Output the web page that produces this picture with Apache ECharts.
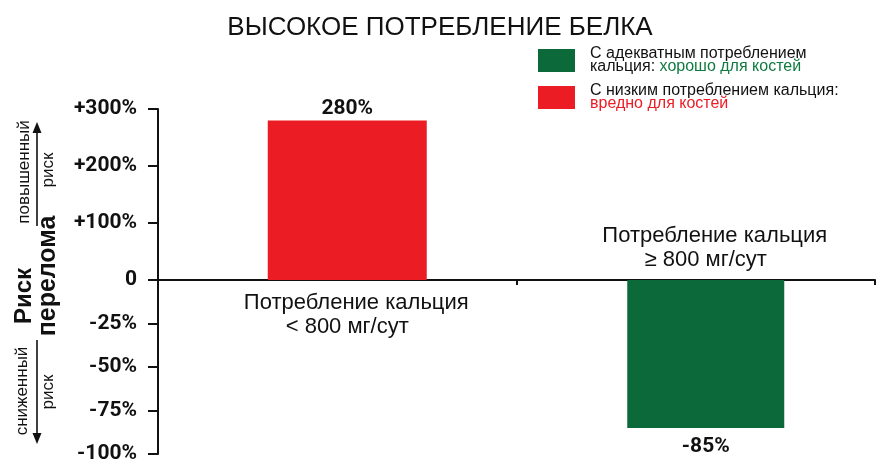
<!DOCTYPE html>
<html>
<head>
<meta charset="utf-8">
<script src="https://cdn.jsdelivr.net/npm/echarts@6/dist/echarts.min.js"></script>
<style>
  html, body { margin: 0; padding: 0; background: #ffffff; }
  #chart { width: 880px; height: 464px; }
</style>
</head>
<body>
<div id="chart"></div>
<script>
// Calcium intake groups (x categories)
const categories = ['Потребление кальция\n< 800 мг/сут', 'Потребление кальция\n≥ 800 мг/сут'];

// Change in fracture risk, % (high protein intake)
const lowCalcium = [280, '-'];
const adequateCalcium = ['-', -85];

// Series names shown in the legend
const seriesNames = ['С адекватным потреблением кальция', 'С низким потреблением кальция'];

// Tick labels of the two halves of the risk axis
const upperTickLabels = ['0', '+100%', '+200%', '+300%'];
const lowerTickLabels = ['-100%', '-75%', '-50%', '-25%', ''];

const RED = '#ec1c24';
const GREEN = '#0b693a';
const BOLDNUM = "Roboto, 'Liberation Sans', sans-serif";
const SANS = "'Liberation Sans', Arial, sans-serif";

const tickFont = { fontFamily: BOLDNUM, fontWeight: 'bold', fontSize: 21, color: '#111' };

// Category label: first line nudged right a little
function categoryLabel(value) {
  const lines = value.split('\n');
  return '{a|' + lines[0] + '}\n{b|' + lines[1] + '}';
}
const catRich = {
  a: { fontFamily: SANS, fontSize: 22, color: '#111', lineHeight: 24, padding: [0, 0, 0, 18] },
  b: { fontFamily: SANS, fontSize: 22, color: '#111', lineHeight: 24 }
};

const chart = echarts.init(document.getElementById('chart'), null, { renderer: 'canvas' });

chart.setOption({
  animation: false,
  backgroundColor: '#ffffff',
  title: {
    text: 'ВЫСОКОЕ ПОТРЕБЛЕНИЕ БЕЛКА',
    left: 'center',
    top: 10,
    textStyle: { fontFamily: SANS, fontSize: 26, fontWeight: 'normal', color: '#111' }
  },
  legend: {
    data: seriesNames,
    orient: 'vertical',
    left: 533,
    top: 41,
    icon: 'rect',
    itemWidth: 37,
    itemHeight: 23,
    itemGap: 8,
    selectedMode: false,
    formatter: function (name) {
      if (name === seriesNames[0]) {
        return '{t|С адекватным потреблением}\n{t|кальция: }{g|хорошо для костей}';
      }
      return '{t|С низким потреблением кальция:}\n{r|вредно для костей}';
    },
    textStyle: {
      padding: [0, 0, 0, 10],
      rich: {
        t: { fontFamily: SANS, fontSize: 16, color: '#111', lineHeight: 13 },
        g: { fontFamily: SANS, fontSize: 16, color: '#0f7a40', lineHeight: 13 },
        r: { fontFamily: SANS, fontSize: 16, color: RED, lineHeight: 13 }
      }
    }
  },
  grid: [
    // positive half (bars)
    { left: 168, top: 109, width: 717, height: 171, outerBoundsMode: 'none', containLabel: false },
    // negative half (bars)
    { left: 168, top: 280, width: 717, height: 174, outerBoundsMode: 'none', containLabel: false },
    // zero line with category boundaries
    { left: 158, top: 109, width: 717, height: 171, outerBoundsMode: 'none', containLabel: false }
  ],
  xAxis: [
    {
      gridIndex: 0, type: 'category', data: categories, position: 'bottom',
      axisLine: { show: false }, axisTick: { show: false }, splitLine: { show: false },
      axisLabel: {
        interval: function (index) { return index === 0; },
        margin: 11, formatter: categoryLabel, rich: catRich
      }
    },
    {
      gridIndex: 1, type: 'category', data: categories, position: 'top',
      axisLine: { show: false }, axisTick: { show: false }, splitLine: { show: false },
      axisLabel: {
        interval: function (index) { return index === 1; },
        margin: 8, formatter: categoryLabel, rich: catRich
      }
    },
    {
      gridIndex: 2, type: 'category', data: categories, position: 'bottom',
      axisLine: { show: true, lineStyle: { color: '#111', width: 2 } },
      axisTick: { show: true, length: 5, lineStyle: { color: '#111', width: 2 } },
      axisLabel: { show: false },
      splitLine: { show: false }
    }
  ],
  yAxis: [
    {
      gridIndex: 0, type: 'value', min: 0, max: 300, interval: 100, offset: 10,
      axisLine: { show: true, lineStyle: { color: '#111', width: 2 } },
      axisTick: { show: true, length: 10, lineStyle: { color: '#111', width: 2 } },
      splitLine: { show: false },
      axisLabel: {
        margin: 21, ...tickFont,
        formatter: function (v, i) { return upperTickLabels[i]; }
      }
    },
    {
      gridIndex: 1, type: 'value', min: -100, max: 0, interval: 25, offset: 10,
      axisLine: { show: true, lineStyle: { color: '#111', width: 2 } },
      axisTick: { show: true, length: 10, lineStyle: { color: '#111', width: 2 } },
      splitLine: { show: false },
      axisLabel: {
        margin: 21, ...tickFont,
        formatter: function (v, i) { return lowerTickLabels[i]; }
      }
    },
    { gridIndex: 2, type: 'value', show: false, min: 0, max: 1 }
  ],
  series: [
    {
      name: seriesNames[0],
      type: 'bar',
      xAxisIndex: 1, yAxisIndex: 1,
      data: adequateCalcium,
      barWidth: 157,
      itemStyle: { color: GREEN },
      label: {
        show: true, position: 'bottom', distance: 8,
        formatter: '{c}%', ...tickFont
      }
    },
    {
      name: seriesNames[1],
      type: 'bar',
      xAxisIndex: 0, yAxisIndex: 0,
      data: lowCalcium,
      barWidth: 159,
      itemStyle: { color: RED },
      label: {
        show: true, position: 'top', distance: 1,
        formatter: '{c}%', ...tickFont
      }
    }
  ],
  graphic: [
    {
      type: 'text', x: 24, y: 296, rotation: Math.PI / 2,
      style: { text: 'Риск', fontFamily: SANS, fontWeight: 'bold', fontSize: 24, fill: '#111', align: 'center', verticalAlign: 'middle' }
    },
    {
      type: 'text', x: 48, y: 276, rotation: Math.PI / 2,
      style: { text: 'перелома', fontFamily: SANS, fontWeight: 'bold', fontSize: 25, fill: '#111', align: 'center', verticalAlign: 'middle' }
    },
    {
      type: 'text', x: 24, y: 172, rotation: Math.PI / 2,
      style: { text: 'повышенный', fontFamily: SANS, fontSize: 17, fill: '#111', align: 'center', verticalAlign: 'middle' }
    },
    {
      type: 'text', x: 48, y: 170, rotation: Math.PI / 2,
      style: { text: 'риск', fontFamily: SANS, fontSize: 17, fill: '#111', align: 'center', verticalAlign: 'middle' }
    },
    {
      type: 'text', x: 22, y: 391, rotation: Math.PI / 2,
      style: { text: 'сниженный', fontFamily: SANS, fontSize: 17, fill: '#111', align: 'center', verticalAlign: 'middle' }
    },
    {
      type: 'text', x: 48, y: 392, rotation: Math.PI / 2,
      style: { text: 'риск', fontFamily: SANS, fontSize: 17, fill: '#111', align: 'center', verticalAlign: 'middle' }
    },
    // up arrow (higher risk)
    { type: 'line', shape: { x1: 37, y1: 226, x2: 37, y2: 130 }, style: { stroke: '#111', lineWidth: 1.6 } },
    { type: 'polygon', shape: { points: [[37, 122], [32.5, 133], [41.5, 133]] }, style: { fill: '#111' } },
    // down arrow (lower risk)
    { type: 'line', shape: { x1: 37, y1: 340, x2: 37, y2: 436 }, style: { stroke: '#111', lineWidth: 1.6 } },
    { type: 'polygon', shape: { points: [[37, 444], [32.5, 433], [41.5, 433]] }, style: { fill: '#111' } }
  ]
});
</script>
</body>
</html>
